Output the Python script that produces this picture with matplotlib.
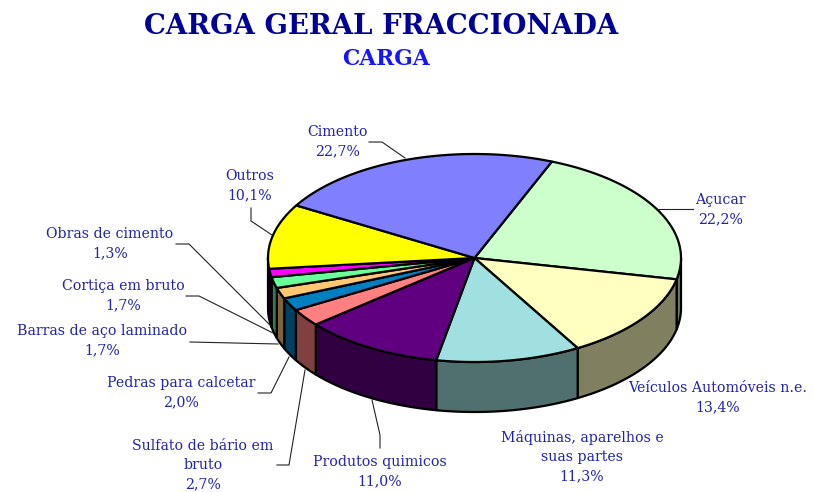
import numpy as np
import matplotlib
matplotlib.use("Agg")
import matplotlib.pyplot as plt
from matplotlib.patches import Polygon

labels = ["Açucar", "Veículos Automóveis n.e.", "Máquinas, aparelhos e\nsuas partes",
          "Produtos quimicos", "Sulfato de bário em\nbruto", "Pedras para calcetar",
          "Barras de aço laminado", "Cortiça em bruto", "Obras de cimento", "Outros", "Cimento"]
values = [22.2, 13.4, 11.3, 11.0, 2.7, 2.0, 1.7, 1.7, 1.3, 10.1, 22.7]
colors = ["#CCFFCC", "#FFFFC0", "#A0E0E0", "#600080", "#FF8080", "#0080C0",
          "#FFC870", "#66FF99", "#FF00FF", "#FFFF00", "#8080FF"]
wall_colors = ["#66805F", "#808060", "#507070", "#300040", "#804040", "#004060",
               "#806438", "#33804C", "#800080", "#808000", "#404080"]

# pie geometry in pixels
cx, cy = 474.5, 258
rx, ry = 206.5, 104
depth = 50
start = 68
text_color = "#2222AA"

fig = plt.figure(figsize=(8.13, 4.92), dpi=100)
ax = fig.add_axes([0, 0, 1, 1])
ax.set_xlim(0, 813)
ax.set_ylim(492, 0)
ax.axis("off")

fracs = np.array(values) / sum(values)
edges = start - np.concatenate([[0], np.cumsum(fracs)]) * 360


def rim(a1, a2, dy=0):
    t = np.radians(np.linspace(a1, a2, 120))
    return np.column_stack([cx + rx * np.cos(t), cy - ry * np.sin(t) + dy])


# side walls, only the front half of the rim shows
for i in range(len(values)):
    for lo, hi in [(-180, 0), (-540, -360)]:
        a1 = min(edges[i], hi)
        a2 = max(edges[i + 1], lo)
        if a1 <= a2:
            continue
        wall = np.vstack([rim(a1, a2), rim(a2, a1, depth)])
        ax.add_patch(Polygon(wall, closed=True, fc=wall_colors[i], ec="black", lw=1.6, joinstyle="round"))

# top of the pie
for i in range(len(values)):
    top = np.vstack([[cx, cy], rim(edges[i], edges[i + 1])])
    ax.add_patch(Polygon(top, closed=True, fc=colors[i], ec="black", lw=1.6, joinstyle="round"))

ax.text(381.5, 26, "CARGA GERAL FRACCIONADA", ha="center", va="center", family="DejaVu Serif",
        weight="bold", fontsize=19.8, color="#000099")
ax.text(386, 59, "CARGA", ha="center", va="center", family="DejaVu Serif",
        weight="bold", fontsize=15.7, color="#1414FF")

label_pos = [(720, 209.5), (718, 398), (582, 456.5), (380, 472), (203, 465), (181, 393),
             (102, 341), (123, 296), (110, 244), (250, 186), (337, 142)]
for name, val, (x, y) in zip(labels, values, label_pos):
    txt = name + "\n" + f"{val:.1f}".replace(".", ",") + "%"
    ax.text(x, y, txt, ha="center", va="center", family="DejaVu Serif", fontsize=10.2,
            color=text_color, linespacing=1.48)

leaders = [[(693, 209), (657, 209)],
           [(369, 142), (382, 142), (405, 158)],
           [(251, 208), (251, 221), (272, 235)],
           [(176, 244), (189, 244), (270, 325)],
           [(186, 296), (199, 296), (273, 333)],
           [(190, 342), (278, 344)],
           [(258, 393), (271, 393), (289, 357)],
           [(277, 465), (289, 465), (305, 370)],
           [(380, 448), (380, 435), (372, 400)]]
for pts in leaders:
    xs, ys = zip(*pts)
    ax.plot(xs, ys, color="#222222", lw=0.8)

fig.savefig("out.png", dpi=100)
